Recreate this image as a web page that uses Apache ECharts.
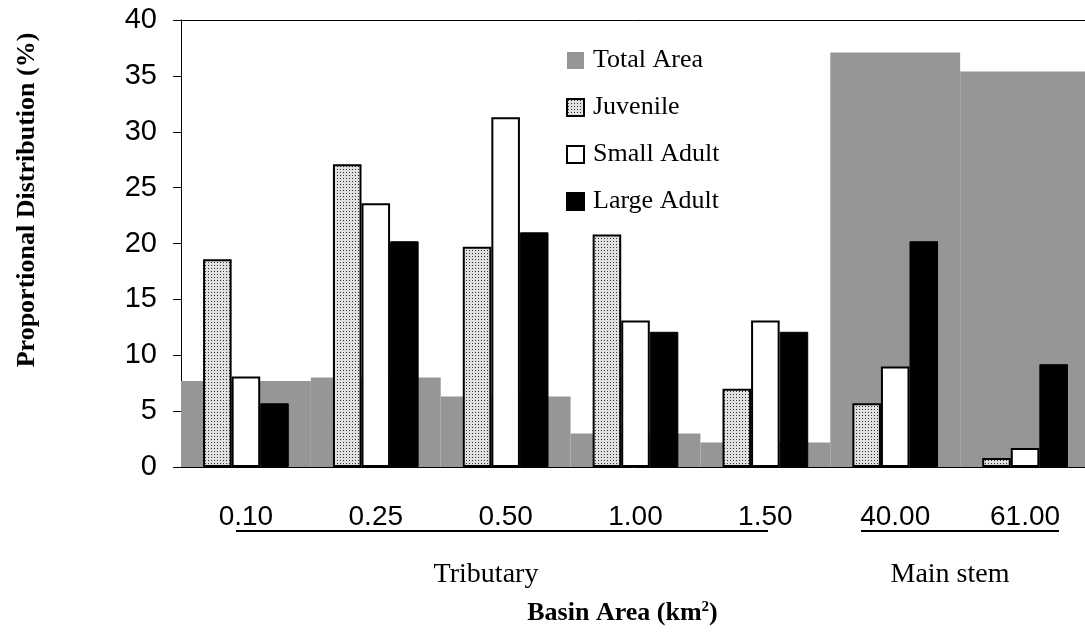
<!DOCTYPE html>
<html>
<head>
<meta charset="utf-8">
<title>Basin Area</title>
<script src="https://cdn.jsdelivr.net/npm/echarts@6/dist/echarts.min.js"></script>
</head>
<body style="margin:0;background:#fff;">
<div id="main" style="width:1085px;height:632px;"></div>
<script type="text/javascript">
    // basin area categories (km2)
    var categories = ['0.10', '0.25', '0.50', '1.00', '1.50', '40.00', '61.00'];
    var totalArea = [7.7, 8.0, 6.3, 3.0, 2.2, 37.1, 35.4];
    var juvenile = [18.6, 27.1, 19.7, 20.8, 7.0, 5.7, 0.8];
    var smallAdult = [8.1, 23.6, 31.3, 13.1, 13.1, 9.0, 1.7];
    var largeAdult = [5.7, 20.2, 21.0, 12.1, 12.1, 20.2, 9.2];
    var yTicks = [0, 5, 10, 15, 20, 25, 30, 35, 40];

    // dotted fill for the juvenile bars
    var cv = document.createElement('canvas');
    cv.width = 3; cv.height = 3;
    var cx = cv.getContext('2d');
    cx.fillStyle = '#e0e0e0';
    cx.fillRect(0, 0, 3, 3);
    cx.fillStyle = '#333';
    cx.fillRect(1, 1, 1, 1);

    var serif = '"Liberation Serif", "Times New Roman", serif';
    var sans = '"Liberation Sans", Arial, sans-serif';

    var myChart = echarts.init(document.getElementById('main'));
    var option = {
        animation: false,
        grid: {left: 181, top: 20, width: 909, height: 447, outerBoundsMode: 'none', containLabel: false},
        legend: {
            orient: 'vertical',
            left: 561,
            top: 42,
            itemWidth: 17,
            itemHeight: 17,
            itemGap: 20,
            icon: 'rect',
            textStyle: {fontFamily: serif, fontSize: 26, color: '#000', padding: [0, 0, 0, 4], lineHeight: 27},
            data: ['Total Area', 'Juvenile', 'Small Adult', 'Large Adult']
        },
        xAxis: [{
            type: 'category',
            data: categories,
            axisLine: {lineStyle: {color: '#000', width: 1}},
            axisTick: {length: 10, lineStyle: {color: '#000'}},
            axisLabel: {fontFamily: sans, fontSize: 28, color: '#000', margin: 36},
            name: 'Basin Area (km{sup|2})',
            nameLocation: 'middle',
            nameGap: 133,
            nameTextStyle: {
                fontFamily: serif, fontSize: 26, fontWeight: 'bold', color: '#000',
                padding: [0, 26, 0, 0],
                rich: {sup: {fontFamily: serif, fontSize: 15, fontWeight: 'bold', verticalAlign: 'top', padding: [0, 0, 12, 0]}}
            }
        }, {
            type: 'category',
            data: categories,
            position: 'top',
            axisLine: {lineStyle: {color: '#000', width: 1}},
            axisTick: {show: false},
            axisLabel: {show: false}
        }],
        yAxis: {
            type: 'value',
            min: 0,
            max: 40,
            interval: 5,
            splitLine: {show: false},
            axisLine: {show: true, lineStyle: {color: '#000'}},
            axisTick: {show: true, length: 8, lineStyle: {color: '#000'}},
            axisLabel: {fontFamily: sans, fontSize: 29, color: '#000', margin: 24,
                formatter: function (v) { return yTicks.indexOf(v) >= 0 ? v : ''; }}
        },
        series: [{
            name: 'Total Area',
            type: 'bar',
            xAxisIndex: 1,
            barCategoryGap: '0%',
            data: totalArea,
            z: 1,
            itemStyle: {color: '#969696'}
        }, {
            name: 'Juvenile',
            type: 'bar',
            barCategoryGap: '34%',
            barGap: '0%',
            data: juvenile,
            z: 2,
            itemStyle: {color: {image: cv, repeat: 'repeat'}, borderColor: '#000', borderWidth: 2}
        }, {
            name: 'Small Adult',
            type: 'bar',
            data: smallAdult,
            z: 2,
            itemStyle: {color: '#fff', borderColor: '#000', borderWidth: 2}
        }, {
            name: 'Large Adult',
            type: 'bar',
            data: largeAdult,
            z: 2,
            itemStyle: {color: '#000', borderColor: '#000', borderWidth: 1}
        }],
        graphic: [
            {type: 'text', x: 27, y: 200, rotation: Math.PI / 2,
                style: {text: 'Proportional Distribution (%)', font: 'bold 26px ' + serif, fill: '#000', textAlign: 'center', textVerticalAlign: 'middle'}},
            {type: 'line', shape: {x1: 236, y1: 531, x2: 768, y2: 531}, style: {stroke: '#000', lineWidth: 2}},
            {type: 'line', shape: {x1: 861, y1: 531, x2: 1059, y2: 531}, style: {stroke: '#000', lineWidth: 2}},
            {type: 'text', x: 486, y: 575,
                style: {text: 'Tributary', font: '28px ' + serif, fill: '#000', textAlign: 'center', textVerticalAlign: 'middle'}},
            {type: 'text', x: 950, y: 575,
                style: {text: 'Main stem', font: '28px ' + serif, fill: '#000', textAlign: 'center', textVerticalAlign: 'middle'}}
        ]
    };
    myChart.setOption(option);
</script>
</body>
</html>
